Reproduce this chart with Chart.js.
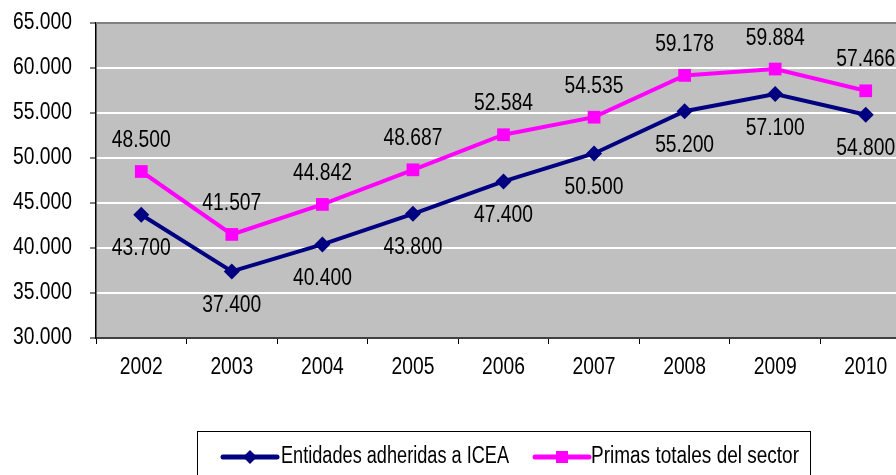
<!DOCTYPE html>
<html>
<head>
<meta charset="utf-8">
<script src="https://cdn.jsdelivr.net/npm/chart.js@4.4.1/dist/chart.umd.min.js"></script>
<style>
  html, body { margin: 0; padding: 0; background: #fff; overflow: hidden; }
  #wrap { width: 920px; height: 475px; position: relative; }
  canvas { display: block; }
</style>
</head>
<body>
<div id="wrap"><canvas id="chart" width="920" height="475"></canvas></div>
<script>
const years = ["2002", "2003", "2004", "2005", "2006", "2007", "2008", "2009", "2010"];
const entidades = [43700, 37400, 40400, 43800, 47400, 50500, 55200, 57100, 54800];
const primas = [48500, 41507, 44842, 48687, 52584, 54535, 59178, 59884, 57466];
const seriesNames = ["Entidades adheridas a ICEA", "Primas totales del sector"];

// the original uses a narrow Arial; no narrow face here, so squeeze Liberation Sans
const FONT = "23.5px 'Liberation Sans', Arial, sans-serif";
const SQUEEZE = 0.82;

// 48500 -> "48.500"
const fmt = (v) => String(Math.round(v)).replace(/\B(?=(\d{3})+(?!\d))/g, ".");

function narrowText(ctx, text, x, y, align, maxW) {
  ctx.save();
  ctx.translate(x, y);
  ctx.scale(SQUEEZE, 1);
  ctx.font = FONT;
  ctx.fillStyle = "#000";
  ctx.textAlign = align;
  ctx.textBaseline = "middle";
  if (maxW) ctx.fillText(text, 0, 0, maxW / SQUEEZE);
  else ctx.fillText(text, 0, 0);
  ctx.restore();
}

const plotBg = {
  id: "plotBg",
  beforeDraw(chart) {
    const { ctx, chartArea: a } = chart;
    ctx.save();
    ctx.fillStyle = "#c0c0c0";
    ctx.fillRect(a.left, a.top, a.right - a.left, a.bottom - a.top);
    ctx.restore();
  },
  afterDraw(chart) {
    const { ctx, chartArea: a } = chart;
    ctx.save();
    ctx.strokeStyle = "#808080";
    ctx.lineWidth = 2;
    ctx.beginPath();
    ctx.moveTo(a.left, a.top);
    ctx.lineTo(a.right, a.top);
    ctx.stroke();
    ctx.restore();
  },
};

// axis labels drawn by hand so they can be narrowed; positions come from the scales
const axisLabels = {
  id: "axisLabels",
  afterDraw(chart) {
    const ctx = chart.ctx;
    const xs = chart.scales.x, ys = chart.scales.y;
    ys.ticks.forEach((t) => {
      narrowText(ctx, fmt(t.value), ys.right - 24, ys.getPixelForValue(t.value), "right");
    });
    years.forEach((yr, i) => {
      narrowText(ctx, yr, xs.getPixelForValue(i), xs.top + 30, "center");
    });
  },
};

const valueLabels = {
  id: "valueLabels",
  afterDatasetsDraw(chart) {
    const ctx = chart.ctx;
    chart.data.datasets.forEach((ds, i) => {
      const meta = chart.getDatasetMeta(i);
      const dy = i === 0 ? 34 : -31;
      meta.data.forEach((pt, j) => {
        narrowText(ctx, fmt(ds.data[j]), pt.x, pt.y + dy, "center");
      });
    });
  },
};

// framed legend like the original (line + marker + text)
const boxLegend = {
  id: "boxLegend",
  afterDraw(chart) {
    const ctx = chart.ctx;
    const left = 197, top = 431, right = 810, bottom = 490;
    ctx.save();
    ctx.strokeStyle = "#000";
    ctx.lineWidth = 1;
    ctx.strokeRect(left + 0.5, top + 0.5, right - left, bottom - top);
    const cy = 457;
    const items = [
      { x: 223, tx: 281, w: 228, ds: chart.data.datasets[0] },
      { x: 535, tx: 591, w: 208, ds: chart.data.datasets[1] },
    ];
    items.forEach((it) => {
      const c = it.ds.borderColor;
      ctx.strokeStyle = c;
      ctx.lineWidth = 5;
      ctx.lineCap = "round";
      ctx.beginPath();
      ctx.moveTo(it.x, cy);
      ctx.lineTo(it.x + 54, cy);
      ctx.stroke();
      ctx.fillStyle = c;
      const mx = it.x + 27;
      if (it.ds.pointStyle === "rectRot") {
        ctx.beginPath();
        ctx.moveTo(mx, cy - 7);
        ctx.lineTo(mx + 7, cy);
        ctx.lineTo(mx, cy + 7);
        ctx.lineTo(mx - 7, cy);
        ctx.closePath();
        ctx.fill();
      } else {
        ctx.fillRect(mx - 6, cy - 6, 12, 12);
      }
      narrowText(ctx, it.ds.label, it.tx, cy, "left", it.w);
    });
    ctx.restore();
  },
};

new Chart(document.getElementById("chart"), {
  type: "line",
  data: {
    labels: years,
    datasets: [
      {
        label: seriesNames[0],
        data: entidades,
        borderColor: "#000080",
        backgroundColor: "#000080",
        borderWidth: 4,
        pointStyle: "rectRot",
        pointRadius: 8,
        pointBorderWidth: 0,
        tension: 0,
      },
      {
        label: seriesNames[1],
        data: primas,
        borderColor: "#ff00ff",
        backgroundColor: "#ff00ff",
        borderWidth: 4,
        pointStyle: "rect",
        pointRadius: 9,
        pointBorderWidth: 0,
        tension: 0,
      },
    ],
  },
  options: {
    responsive: false,
    animation: false,
    layout: { padding: { top: 23, right: 0, left: 0, bottom: 0 } },
    plugins: {
      legend: { display: false },
      tooltip: { enabled: false },
    },
    scales: {
      x: {
        offset: true,
        grid: {
          offset: true,
          drawOnChartArea: false,
          color: "#000",
          tickLength: 6,
          lineWidth: 1,
        },
        border: { display: true, color: "#404040", width: 2 },
        ticks: {
          color: "rgba(0,0,0,0)",
          font: { size: 12 },
          maxRotation: 0,
          autoSkip: false,
        },
        afterFit(scale) {
          scale.height = 137;
        },
      },
      y: {
        min: 30000,
        max: 65000,
        grid: {
          color: "#ffffff",
          lineWidth: 2,
          tickColor: "#000",
          tickWidth: 1,
          tickLength: 6,
        },
        border: { display: true, color: "#000", width: 1.5 },
        ticks: {
          stepSize: 5000,
          color: "rgba(0,0,0,0)",
          font: { size: 12 },
          callback: (v) => fmt(v),
        },
        afterFit(scale) {
          scale.width = 96;
        },
      },
    },
  },
  plugins: [plotBg, axisLabels, valueLabels, boxLegend],
});
</script>
</body>
</html>
